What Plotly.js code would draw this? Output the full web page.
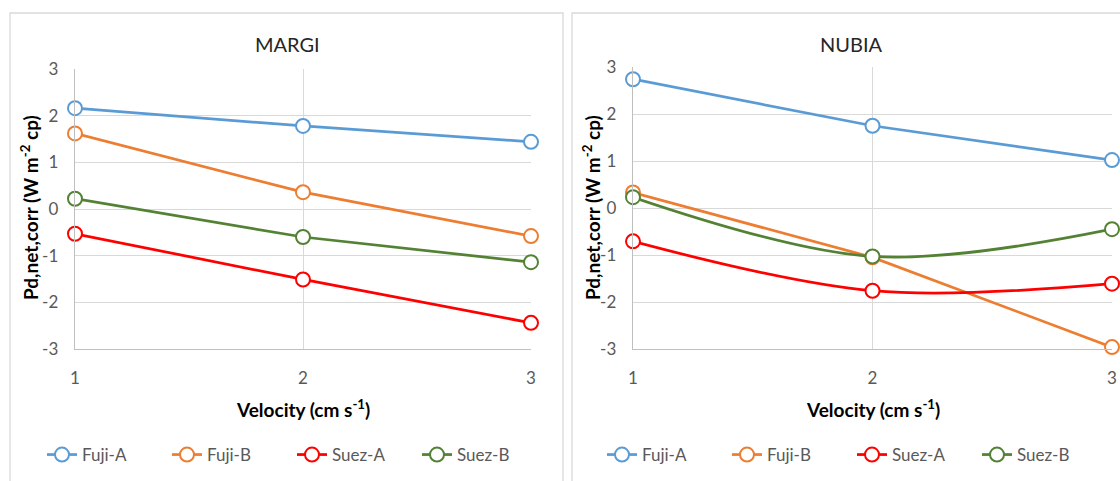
<!DOCTYPE html>
<html>
<head>
<meta charset="utf-8">
<script src="https://cdn.plot.ly/plotly-3.0.1.min.js"></script>
<style>html,body{margin:0;padding:0;background:#fff;}#chart{width:1120px;height:481px;}</style>
</head>
<body>
<div id="chart"></div>
<script>
// ---- data ----
const velocity = [1, 2, 3];
const seriesNames = ["Fuji-A", "Fuji-B", "Suez-A", "Suez-B"];
const seriesColors = ["#5B9BD5", "#ED7D31", "#FF0000", "#548235"];
const margiFujiA = [2.16, 1.78, 1.44];
const margiFujiB = [1.62, 0.36, -0.58];
const margiSuezA = [-0.53, -1.51, -2.44];
const margiSuezB = [0.22, -0.60, -1.14];
const nubiaFujiA = [2.74, 1.75, 1.02];
const nubiaFujiB = [0.33, -1.05, -2.96];
const nubiaSuezA = [-0.71, -1.76, -1.61];
const nubiaSuezB = [0.23, -1.03, -0.45];
const panelTitles = ["MARGI", "NUBIA"];
const xTickVals = [1, 2, 3];
const xTickText = ["1", "2", "3"];
const yTickVals = [-3, -2, -1, 0, 1, 2, 3];
const yTickText = ["-3", "-2", "-1", "0", "1", "2", "3"];
const xTitle = "Velocity (cm s<sup>-1</sup>)";
const yTitle = "Pd,net,corr (W m<sup>-2</sup> cp)";

const W = 1120, H = 481;
const px = v => v / W;
const py = v => 1 - v / H;
const FONT = "Lato, 'Open Sans', sans-serif";

const margi = [margiFujiA, margiFujiB, margiSuezA, margiSuezB];
const nubia = [nubiaFujiA, nubiaFujiB, nubiaSuezA, nubiaSuezB];
const nubiaShape = ["linear", "linear", "spline", "spline"];

const traces = [];
margi.forEach((ys, i) => {
  traces.push({
    x: velocity, y: ys, name: seriesNames[i], type: "scatter", mode: "lines+markers",
    xaxis: "x", yaxis: "y", legend: "legend", cliponaxis: false,
    line: {color: seriesColors[i], width: 2.75},
    marker: {symbol: "circle", size: 14, color: "#ffffff", line: {color: seriesColors[i], width: 2}}
  });
});
nubia.forEach((ys, i) => {
  traces.push({
    x: velocity, y: ys, name: seriesNames[i], type: "scatter", mode: "lines+markers",
    xaxis: "x2", yaxis: "y2", legend: "legend2", cliponaxis: false,
    line: {color: seriesColors[i], width: 2.75, shape: nubiaShape[i], smoothing: 1},
    marker: {symbol: "circle", size: 14, color: "#ffffff", line: {color: seriesColors[i], width: 2}}
  });
});

const xCommon = {
  range: [1, 3], tickmode: "array", tickvals: xTickVals, ticktext: xTickText,
  showgrid: true, gridcolor: "#d9d9d9", gridwidth: 1,
  zeroline: false, showline: true, linecolor: "#bfbfbf", linewidth: 1.3, ticks: "",
  ticklabelstandoff: 13, tickfont: {family: FONT, size: 17, color: "#595959"}, fixedrange: true
};
const yCommon = {
  range: [-3, 3], tickmode: "array", tickvals: yTickVals, ticktext: yTickText,
  showgrid: true, gridcolor: "#d9d9d9", gridwidth: 1,
  zeroline: false, showline: true, linecolor: "#bfbfbf", linewidth: 1.3, ticks: "",
  ticklabelstandoff: 12, tickfont: {family: FONT, size: 17, color: "#595959"}, fixedrange: true
};

const legendCommon = {
  orientation: "h", xanchor: "left", yanchor: "middle", y: py(455),
  font: {family: FONT, size: 17, color: "#595959"}, bgcolor: "rgba(0,0,0,0)",
  borderwidth: 0, traceorder: "normal", entrywidth: 80, entrywidthmode: "pixels", itemclick: false
};

const layout = {
  width: W, height: H, margin: {l: 0, r: 0, t: 0, b: 0},
  paper_bgcolor: "#ffffff", plot_bgcolor: "#ffffff",
  showlegend: true,
  xaxis: Object.assign({}, xCommon, {domain: [px(75), px(531)], anchor: "y"}),
  yaxis: Object.assign({}, yCommon, {domain: [py(349), py(69)], anchor: "x"}),
  xaxis2: Object.assign({}, xCommon, {domain: [px(633), px(1112)], anchor: "y2"}),
  yaxis2: Object.assign({}, yCommon, {domain: [py(349), py(67)], anchor: "x2"}),
  legend: Object.assign({}, legendCommon, {x: px(42)}),
  legend2: Object.assign({}, legendCommon, {x: px(602)}),
  shapes: [
    {type: "rect", xref: "paper", yref: "paper", x0: px(10), x1: px(563), y0: -0.05, y1: py(13),
     line: {color: "#d9d9d9", width: 1.3}, fillcolor: "rgba(0,0,0,0)", layer: "below"},
    {type: "rect", xref: "paper", yref: "paper", x0: px(572), x1: 1.05, y0: -0.05, y1: py(13),
     line: {color: "#d9d9d9", width: 1.3}, fillcolor: "rgba(0,0,0,0)", layer: "below"}
  ],
  annotations: [
    {text: panelTitles[0], xref: "paper", yref: "paper", x: px(287), y: py(44), showarrow: false,
     xanchor: "center", yanchor: "middle", font: {family: FONT, size: 20, color: "#262626"}},
    {text: panelTitles[1], xref: "paper", yref: "paper", x: px(851), y: py(44), showarrow: false,
     xanchor: "center", yanchor: "middle", font: {family: FONT, size: 20, color: "#262626"}},
    {text: "<b>" + xTitle + "</b>", xref: "paper", yref: "paper", x: px(303), y: py(408), showarrow: false,
     xanchor: "center", yanchor: "middle", font: {family: FONT, size: 19, color: "#000000"}},
    {text: "<b>" + xTitle + "</b>", xref: "paper", yref: "paper", x: px(873), y: py(408), showarrow: false,
     xanchor: "center", yanchor: "middle", font: {family: FONT, size: 19, color: "#000000"}},
    {text: "<b>" + yTitle + "</b>", xref: "paper", yref: "paper", x: px(29), y: py(208), showarrow: false,
     textangle: -90, xanchor: "center", yanchor: "middle", font: {family: FONT, size: 19, color: "#000000"}},
    {text: "<b>" + yTitle + "</b>", xref: "paper", yref: "paper", x: px(591), y: py(208), showarrow: false,
     textangle: -90, xanchor: "center", yanchor: "middle", font: {family: FONT, size: 19, color: "#000000"}}
  ]
};

Plotly.newPlot("chart", traces, layout, {staticPlot: true, displayModeBar: false});
</script>
</body>
</html>
